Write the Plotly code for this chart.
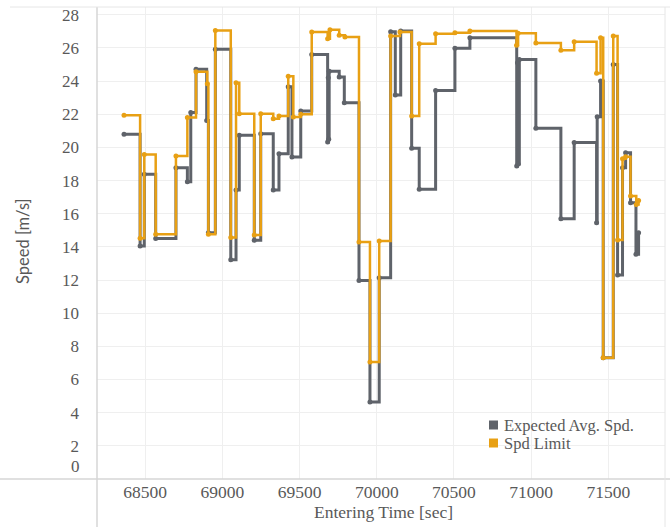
import plotly.graph_objects as go

# ---- data ----
time_expected = [68364, 68468, 68495, 68569, 68700, 68774, 68796, 68830, 68899, 68910,
                 68955, 69055, 69089, 69110, 69207, 69249, 69330, 69367, 69427, 69451,
                 69508, 69579, 69682, 69686, 69689, 69692, 69757, 69790, 69885, 69956,
                 70016, 70090, 70120, 70155, 70226, 70275, 70381, 70506, 70603, 70906,
                 70911, 70915, 70923, 71030, 71192, 71278, 71423, 71427, 71449, 71466,
                 71531, 71559, 71591, 71611, 71643, 71678, 71695]
speed_expected = [20.79, 14.05, 18.38, 14.5, 18.78, 17.93, 22.1, 24.71, 21.63, 14.86,
                  25.92, 13.23, 17.43, 20.73, 14.4, 20.83, 17.43, 19.62, 23.66, 19.42,
                  22.2, 25.61, 20.33, 24.2, 20.5, 24.6, 24.25, 22.7, 11.98, 4.64,
                  12.14, 26.98, 23.16, 27.02, 19.95, 17.47, 23.44, 25.98, 26.62, 18.88,
                  25.1, 19.0, 25.31, 21.15, 15.7, 20.29, 15.46, 21.85, 24.0, 7.32,
                  25.0, 12.3, 18.78, 19.68, 16.67, 13.55, 14.86]

time_limit = [68364, 68468, 68495, 68569, 68700, 68774, 68830, 68903, 68910, 68955,
              69055, 69089, 69110, 69207, 69249, 69330, 69367, 69427, 69460, 69508,
              69579, 69682, 69697, 69757, 69794, 69885, 69956, 70016, 70090, 70150,
              70226, 70275, 70381, 70506, 70603, 70905, 70915, 71030, 71192, 71278,
              71423, 71449, 71466, 71531, 71559, 71591, 71611, 71643, 71680, 71695]
speed_limit = [21.94, 14.52, 19.58, 14.76, 19.48, 21.8, 24.57, 23.84, 14.76, 27.06,
               14.56, 23.9, 22.03, 14.72, 22.03, 21.73, 21.9, 24.3, 21.83, 22.0,
               26.96, 26.56, 27.1, 26.76, 26.66, 14.29, 7.06, 14.35, 26.72, 26.96,
               21.9, 26.26, 26.86, 26.92, 27.02, 26.16, 26.88, 26.3, 25.86, 26.38,
               24.47, 26.62, 7.32, 26.72, 14.41, 19.32, 19.44, 17.07, 16.55, 16.8]

x_ticks = [68500, 69000, 69500, 70000, 70500, 71000, 71500]
y_ticks = [2, 4, 6, 8, 10, 12, 14, 16, 18, 20, 22, 24, 26, 28]

series_names = ["Expected Avg. Spd.", "Spd Limit"]
GREY = "#5f636a"
ORANGE = "#e8a014"

SERIF = "Liberation Serif"
TXT = "#595959"

fig = go.Figure()

fig.add_trace(go.Scatter(
    x=time_expected, y=speed_expected, mode="lines+markers", line_shape="hv",
    line=dict(color=GREY, width=3), marker=dict(color=GREY, size=5),
    name=series_names[0], showlegend=False))
fig.add_trace(go.Scatter(
    x=time_limit, y=speed_limit, mode="lines+markers", line_shape="hv",
    line=dict(color=ORANGE, width=2.5), marker=dict(color=ORANGE, size=5),
    name=series_names[1], showlegend=False))

# plot-area geometry in pixels
L, R, T, B = 97, 665, 7, 479
W, H = R - L, B - T
def px(x): return (x - L) / W
def py(y): return (B - y) / H

line_col = "#d6d6d6"
shapes = [
    dict(type="line", xref="paper", yref="paper", x0=px(0), x1=px(670), y0=py(479), y1=py(479),
         line=dict(color=line_col, width=1.5)),
    dict(type="line", xref="paper", yref="paper", x0=px(97), x1=px(97), y0=py(7), y1=py(527),
         line=dict(color=line_col, width=1.5)),
    dict(type="line", xref="paper", yref="paper", x0=px(10), x1=px(670), y0=py(7), y1=py(7),
         line=dict(color="#e6e6e6", width=1)),
    dict(type="line", xref="paper", yref="paper", x0=px(665), x1=px(665), y0=py(7), y1=py(527),
         line=dict(color="#e6e6e6", width=1)),
]

annotations = [dict(text="0", xref="paper", yref="paper", x=px(82), y=py(466),
                    xanchor="right", yanchor="middle", showarrow=False,
                    font=dict(family=SERIF, size=17, color=TXT)),
               dict(text="Entering Time [sec]", xref="paper", yref="paper", x=px(383), y=py(512),
                    xanchor="center", yanchor="middle", showarrow=False,
                    font=dict(family=SERIF, size=17.5, color=TXT)),
               dict(text="Speed [m/s]", xref="paper", yref="paper", x=px(23), y=py(241),
                    xanchor="center", yanchor="middle", showarrow=False, textangle=-90,
                    font=dict(family="Lato", size=16.5, color=TXT))]

# legend (square swatches + labels)
legend_rows = [425, 443]
for nm, col, yc in zip(series_names, [GREY, ORANGE], legend_rows):
    shapes.append(dict(type="rect", xref="paper", yref="paper",
                       x0=px(489), x1=px(498), y0=py(yc + 4.5), y1=py(yc - 4.5),
                       fillcolor=col, line=dict(width=0)))
    annotations.append(dict(text=nm, xref="paper", yref="paper", x=px(502), y=py(yc),
                            xanchor="left", yanchor="middle", showarrow=False,
                            font=dict(family=SERIF, size=16.5, color=TXT)))

fig.update_layout(
    width=670, height=527,
    margin=dict(l=L, r=670 - R, t=T, b=527 - B, autoexpand=False),
    paper_bgcolor="white", plot_bgcolor="white",
    shapes=shapes, annotations=annotations,
    showlegend=False,
)

fig.update_xaxes(
    range=[68189, 71866], tickvals=x_ticks, ticktext=[str(v) for v in x_ticks],
    showgrid=True, gridcolor="#efefef", gridwidth=1, zeroline=False, showline=False,
    ticks="", automargin=False, tickfont=dict(family=SERIF, size=17.5, color=TXT),
)
fig.update_yaxes(
    range=[0, 28.47], tickvals=y_ticks, ticktext=[str(v) for v in y_ticks],
    showgrid=True, gridcolor="#efefef", gridwidth=1, zeroline=False, showline=False,
    ticks="", automargin=False, ticklabelstandoff=17,
    tickfont=dict(family=SERIF, size=17, color=TXT),
)

fig.write_html("out.html",
               config={"displayModeBar": False},
               post_script="document.body.style.margin='0';document.body.style.overflow='hidden';")
